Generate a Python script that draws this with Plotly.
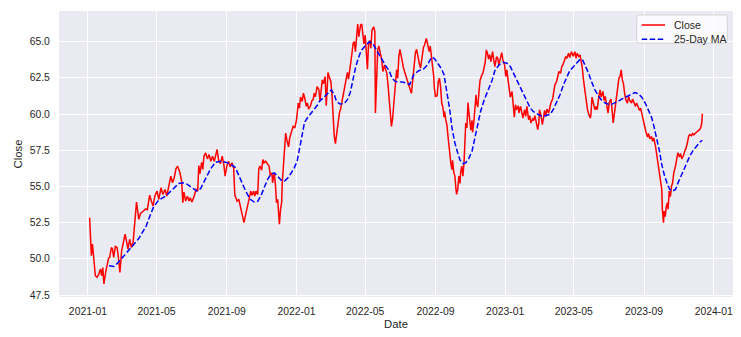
import pandas as pd
import plotly.graph_objects as go

# ---- data (days after 2021-01-01, value) ----
start = pd.Timestamp("2021-01-01")

close_day = [3, 5, 6, 8, 10, 13, 16, 19, 22, 24, 26, 28, 31, 34, 36, 38, 41, 43, 45, 48, 51, 53, 56, 59, 62, 65, 68, 70, 73, 76, 79, 82, 85, 89, 92, 97,
             101, 104, 108, 111, 114, 117, 121, 124, 128, 131, 135, 138, 142, 145, 148, 151, 154, 157, 161, 164, 166, 168, 171, 174, 177, 179, 182, 186, 189, 192, 194, 196, 199, 201, 203, 206, 209, 212, 215, 218, 221, 223, 226, 229, 232, 235, 238, 240, 243, 246, 249, 252, 255,
             257, 261, 264, 267, 269, 272, 273, 276, 278, 280, 283, 285, 287, 290, 292, 294, 297, 299, 301, 304, 306, 308, 311, 314, 317, 319, 322, 323, 326, 328, 330, 332, 333, 335, 337, 339, 340, 342, 344, 346, 348, 351, 353, 356, 359, 362, 365, 368, 370, 372, 375, 377, 379, 382, 384, 386, 389, 392, 394, 396,
             398, 401, 404, 406, 410, 412, 415, 417, 420, 422, 425, 427, 429, 431, 433, 435, 438, 440, 442, 445, 447, 449, 452, 454, 456, 458, 460, 462, 464, 466, 468, 470, 472, 474, 477, 479, 481, 483, 485, 487, 489, 491, 493, 495, 497, 500, 502, 503, 505, 507, 509, 512, 514, 516, 519, 521, 523, 525, 527, 529, 531, 533, 535, 538, 540, 542, 544, 546,
             549, 552, 555, 558, 561, 563, 566, 568, 570, 573, 575, 577, 580, 582, 584, 587, 589, 591, 592, 594, 597, 599, 601, 603, 605, 606, 608, 611, 613, 615, 617, 619, 621, 623, 624, 626, 628, 630, 631, 633, 635, 637, 638, 640, 642, 644, 645, 647, 649, 651, 652, 654, 656, 658, 659, 661, 663, 665, 666, 668, 670, 672, 673, 675, 677, 679, 680, 682, 684, 686, 689, 691, 693, 695, 697, 699,
             701, 703, 705, 708, 710, 712, 715, 717, 719, 722, 724, 726, 729, 731, 733, 735, 737, 739, 742, 744, 746, 748, 750, 753, 754, 757, 759, 761, 764, 766, 768, 771, 773, 775, 778, 780, 782, 785, 787, 789, 790, 793, 795, 797, 799, 801, 803, 806, 808, 810, 813, 815, 817, 820, 822, 824, 827, 829, 831, 834, 836, 838, 841,
             843, 846, 849, 852, 854, 856, 859, 861, 863, 865, 867, 869, 872, 874, 876, 879, 880, 882, 884, 887, 889, 891, 894, 896, 898, 901, 903, 905, 908, 910, 912, 915, 917, 919, 922, 924, 926, 929, 931, 933, 935, 937, 939, 941, 944, 946, 948, 951, 953, 955, 958, 960, 962, 965, 967, 969, 972, 974, 976, 979, 981, 983, 986, 988, 990, 993, 995, 997, 999,
             1001, 1004, 1005, 1007, 1008, 1010, 1012, 1014, 1015, 1017, 1019, 1021, 1023, 1025, 1028, 1030, 1032, 1035, 1037, 1039, 1042, 1044, 1046, 1049, 1051, 1053, 1056, 1058, 1060, 1063, 1065, 1067, 1070, 1072, 1074, 1075]

close_val = [52.84, 51.12, 50.21, 51.01, 50.09, 48.83, 48.72, 48.94, 49.29, 48.83, 49.40, 48.26, 49.06, 49.63, 50.02, 50.09, 50.78, 50.67, 50.09, 50.85, 50.78, 50.21, 49.06, 50.55, 51.12, 51.70, 51.12, 50.67, 51.35, 50.78, 51.12, 52.50, 53.92, 52.73, 53.14, 53.30,
             53.45, 53.40, 54.40, 53.99, 53.65, 54.33, 54.68, 54.11, 54.91, 54.45, 54.79, 54.33, 55.02, 55.71, 55.25, 55.60, 56.22, 56.40, 55.94, 55.37, 53.88, 54.61, 53.99, 54.33, 53.99, 54.22, 53.92, 54.33, 54.79, 54.68, 56.44, 55.89, 56.67, 56.17, 57.09, 57.32, 56.90, 57.20, 56.74, 57.09, 56.74, 57.09, 57.55, 56.74, 56.58, 57.09, 56.44, 55.71, 56.40, 56.74, 56.35, 56.63, 56.28,
             54.40, 53.99, 54.11, 53.53, 53.30, 52.61, 52.50, 53.07, 53.42, 53.92, 54.22, 54.68, 54.38, 54.68, 54.33, 54.68, 54.45, 56.22, 56.40, 56.12, 56.86, 56.63, 56.74, 56.58, 56.40, 55.76, 55.94, 55.25, 55.94, 55.14, 53.88, 54.11, 53.19, 52.39, 53.42, 53.92, 55.25, 56.44, 57.32, 58.69, 58.23, 57.73, 58.35, 58.74, 59.15, 59.04, 59.61, 60.76, 60.41, 61.17, 60.87, 61.44, 61.17, 60.53, 60.76, 60.34, 60.53, 60.94, 60.99, 61.44,
             61.20, 61.90, 61.70, 60.90, 62.36, 62.09, 62.59, 60.57, 62.87, 62.59, 62.25, 61.33, 59.61, 58.46, 57.96, 58.69, 59.61, 60.07, 60.34, 60.99, 61.40, 61.67, 62.36, 62.87, 62.41, 62.94, 63.51, 64.20, 64.89, 65.00, 64.31, 65.57, 66.22, 65.34, 66.15, 66.22, 65.53, 64.84, 65.46, 64.20, 63.10, 64.89, 65.07, 64.54, 65.80, 66.03, 65.69, 60.07, 62.59, 64.43, 64.70, 64.20, 63.74, 62.94, 63.39, 63.05, 62.82, 62.02, 61.10, 59.84, 59.15, 59.66, 60.80, 62.48, 63.05, 62.48, 63.97, 64.47,
             63.74, 63.20, 62.80, 62.36, 62.02, 61.79, 61.44, 62.25, 63.10, 64.24, 64.47, 63.97, 63.46, 63.17, 63.74, 64.61, 64.77, 65.00, 65.23, 64.89, 64.31, 64.70, 64.08, 63.28, 62.59, 61.86, 61.22, 61.26, 62.25, 62.48, 61.86, 60.76, 60.48, 59.79, 60.18, 59.61, 59.27, 58.46, 57.96, 57.09, 56.58, 56.17, 56.81, 55.99, 55.71, 54.79, 54.45, 54.79, 55.71, 55.21, 55.94, 56.40, 55.71, 56.63, 58.00, 59.38, 59.04, 60.80, 60.30, 59.61, 58.88, 59.56, 58.74, 59.38, 60.53, 61.33, 60.76, 60.48, 61.44, 62.32, 62.68, 62.82, 63.17, 63.56, 64.43, 64.20,
             63.80, 64.10, 63.62, 64.31, 63.74, 63.28, 63.97, 63.85, 63.39, 63.97, 64.24, 63.74, 63.39, 62.59, 63.05, 62.36, 61.67, 61.17, 61.56, 60.53, 59.79, 60.64, 60.30, 60.57, 60.07, 60.53, 60.18, 59.72, 60.30, 59.84, 60.53, 59.61, 59.89, 59.38, 59.66, 59.56, 59.89, 59.38, 58.92, 59.43, 60.30, 59.84, 59.27, 59.72, 60.25, 59.84, 60.34, 60.07, 60.41, 60.76, 61.03, 61.67, 62.02, 62.25, 62.59, 62.94, 62.82, 63.28, 63.39, 63.74, 63.97, 63.85, 64.20,
             63.90, 64.31, 64.00, 64.31, 63.85, 64.20, 63.97, 64.08, 63.62, 63.17, 62.36, 61.67, 60.87, 60.30, 60.02, 59.72, 59.95, 61.17, 60.80, 60.30, 60.53, 60.30, 61.26, 61.67, 61.17, 61.56, 60.94, 61.22, 60.53, 60.07, 60.76, 61.03, 60.30, 59.38, 60.30, 60.94, 61.17, 62.48, 62.59, 63.05, 62.36, 62.09, 61.44, 60.99, 60.76, 61.22, 60.94, 60.76, 61.03, 60.80, 60.53, 60.76, 60.48, 60.25, 60.41, 60.02, 59.61, 59.15, 58.81, 58.42, 58.65, 58.28, 58.46, 58.12, 58.35, 57.78, 57.27, 56.63, 55.94,
             55.48, 54.79, 53.42, 52.50, 53.30, 52.91, 53.65, 53.88, 53.42, 54.68, 54.29, 55.02, 55.25, 55.94, 56.40, 56.86, 57.32, 57.04, 57.27, 56.90, 57.13, 57.43, 57.59, 58.05, 58.46, 58.58, 58.51, 58.65, 58.56, 58.69, 58.74, 58.81, 58.92, 59.04, 59.38, 60.02]

ma_day = [37, 46, 54, 63, 72, 80, 89, 98, 101, 108, 115, 124, 136, 147, 159, 166, 174, 182, 191, 197, 206, 214, 223, 232, 241, 249, 258, 267, 276, 284, 291, 297, 303, 309, 315, 320, 326, 332, 338, 344, 350, 355, 361, 366, 370, 374, 379, 385, 390, 396, 402, 405, 412, 419, 426, 431, 435, 441, 448, 454, 459, 463, 468, 473, 478, 485, 492, 498, 504, 510, 516, 521, 527, 532, 538, 545, 552, 563, 570, 578, 587, 594, 601, 606, 612, 619, 623, 628, 633, 637, 642, 647, 651, 656, 661, 666, 672, 677, 682, 687, 693, 699, 707, 712, 719, 727, 733, 739, 744, 750, 756, 762, 768, 774, 779, 785, 791, 797, 803, 809, 814, 820, 826, 832, 838, 843, 849, 854, 860, 865, 870, 876, 881, 887, 893, 899, 905, 911, 916, 922, 928, 934, 940, 945, 951, 957, 963, 969, 975, 980, 986, 990, 995, 1000, 1004, 1009, 1014, 1018, 1023, 1028, 1032, 1037, 1042, 1047, 1053, 1059, 1065, 1071, 1075]

ma_val = [49.52, 49.47, 49.79, 50.21, 50.62, 51.01, 51.40, 52.00, 52.16, 52.91, 53.60, 54.06, 54.33, 54.75, 55.21, 55.25, 55.14, 54.91, 54.68, 54.84, 55.53, 56.17, 56.67, 56.74, 56.67, 56.56, 56.30, 55.48, 54.68, 54.11, 53.92, 53.97, 54.38, 54.98, 55.53, 55.83, 55.94, 55.71, 55.44, 55.37, 55.60, 55.89, 56.28, 56.74, 57.55, 58.58, 59.43, 59.79, 60.02, 60.34, 60.64, 60.87, 61.17, 61.40, 61.67, 61.33, 60.87, 60.69, 60.71, 60.99, 61.49, 62.32, 63.17, 63.85, 64.38, 64.70, 64.98, 64.89, 64.47, 64.08, 63.69, 63.33, 63.00, 62.48, 62.25, 62.25, 62.20, 62.04, 62.71, 62.98, 63.10, 63.39, 63.92, 63.85, 63.51, 63.10, 62.71, 61.56, 60.30, 59.04, 58.00, 57.32, 56.81, 56.58, 56.63, 56.90, 57.43, 58.35, 59.38, 60.18, 60.94, 61.56, 62.32, 63.00, 63.39, 63.58, 63.51, 63.28, 62.87, 62.41, 61.95, 61.40, 60.87, 60.41, 60.18, 60.02, 59.89, 59.84, 59.89, 59.98, 60.30, 60.76, 61.33, 62.02, 62.59, 63.00, 63.25, 63.46, 63.74, 63.78, 63.39, 62.82, 62.25, 61.67, 61.26, 60.94, 60.76, 60.67, 60.67, 60.76, 60.89, 61.03, 61.15, 61.26, 61.35, 61.49, 61.40, 61.17, 60.76, 60.30, 59.79, 59.20, 58.40, 57.43, 56.51, 55.71, 55.14, 54.79, 54.68, 54.79, 55.21, 55.67, 56.12, 56.63, 57.09, 57.50, 57.82, 58.07, 58.19]

close_dates = start + pd.to_timedelta(close_day, unit="D")
ma_dates = start + pd.to_timedelta(ma_day, unit="D")

# ---- layout constants ----
W, H = 741, 337
ML, MR, MT, MB = 59, 8, 11, 40
PW, PH = W - ML - MR, H - MT - MB
FONT = "Arial, Liberation Sans, sans-serif"
TXT = "#262626"

def px_x(p):
    return (p - ML) / PW

def px_y(p):
    return 1 - (p - MT) / PH

span = close_dates.max() - close_dates.min()
xr = [close_dates.min() - 0.05 * span, close_dates.max() + 0.05 * span]
ymin, ymax = min(close_val), max(close_val)
yr = [ymin - 0.05 * (ymax - ymin), ymax + 0.05 * (ymax - ymin)]

fig = go.Figure()
fig.add_trace(go.Scatter(x=close_dates, y=close_val, mode="lines", name="Close",
                         line=dict(color="#ff0000", width=1.5), showlegend=False))
fig.add_trace(go.Scatter(x=ma_dates, y=ma_val, mode="lines", name="25-Day MA",
                         line=dict(color="#0000ff", width=1.5, dash="5.5px,2.5px"), showlegend=False))

# ---- custom legend (matplotlib style) ----
bx0, bx1, by0, by1 = px_x(636.7), px_x(727.3), px_y(43.3), px_y(15)
rx, ry = 3 / PW, 3 / PH
path = (f"M {bx0+rx} {by1} L {bx1-rx} {by1} Q {bx1} {by1} {bx1} {by1-ry} "
        f"L {bx1} {by0+ry} Q {bx1} {by0} {bx1-rx} {by0} L {bx0+rx} {by0} "
        f"Q {bx0} {by0} {bx0} {by0+ry} L {bx0} {by1-ry} Q {bx0} {by1} {bx0+rx} {by1} Z")
shapes = [dict(type="path", xref="paper", yref="paper", path=path,
               fillcolor="rgba(255,255,255,0.8)", line=dict(color="rgba(204,204,204,0.8)", width=1))]
shapes.append(dict(type="line", xref="paper", yref="paper", x0=px_x(641.7), x1=px_x(665),
                   y0=px_y(25), y1=px_y(25), line=dict(color="#ff0000", width=1.5)))
shapes.append(dict(type="line", xref="paper", yref="paper", x0=px_x(641.7), x1=px_x(665),
                   y0=px_y(39.3), y1=px_y(39.3), line=dict(color="#0000ff", width=1.5, dash="5.5px,2.5px")))
annotations = [
    dict(text="Close", xref="paper", yref="paper", x=px_x(671.5), y=px_y(25), xanchor="left", yanchor="middle",
         showarrow=False, font=dict(family=FONT, size=10.5, color=TXT)),
    dict(text="25-Day MA", xref="paper", yref="paper", x=px_x(671.5), y=px_y(39.3), xanchor="left", yanchor="middle",
         showarrow=False, font=dict(family=FONT, size=10.5, color=TXT)),
]

fig.update_layout(
    width=W, height=H, margin=dict(l=ML, r=MR, t=MT, b=MB, autoexpand=False),
    paper_bgcolor="white", plot_bgcolor="#EAEAF2",
    font=dict(family=FONT, size=10.4, color=TXT),
    shapes=shapes, annotations=annotations, showlegend=False,
    xaxis=dict(type="date", range=xr, tick0="2021-01-01", dtick="M4", tickformat="%Y-%m",
               showgrid=True, gridcolor="white", gridwidth=1, zeroline=False, showline=False,
               ticks="outside", ticklen=5, tickcolor="rgba(0,0,0,0)",
               tickfont=dict(family=FONT, size=10.4, color=TXT),
               title=dict(text="Date", font=dict(family=FONT, size=11.3, color=TXT), standoff=3)),
    yaxis=dict(range=yr, tick0=47.5, dtick=2.5, tickformat=".1f",
               showgrid=True, gridcolor="white", gridwidth=1, zeroline=False, showline=False,
               ticks="outside", ticklen=6, tickcolor="rgba(0,0,0,0)",
               tickfont=dict(family=FONT, size=10.4, color=TXT),
               title=dict(text="Close", font=dict(family=FONT, size=11.3, color=TXT), standoff=4)),
)

fig.write_html("out.html")
